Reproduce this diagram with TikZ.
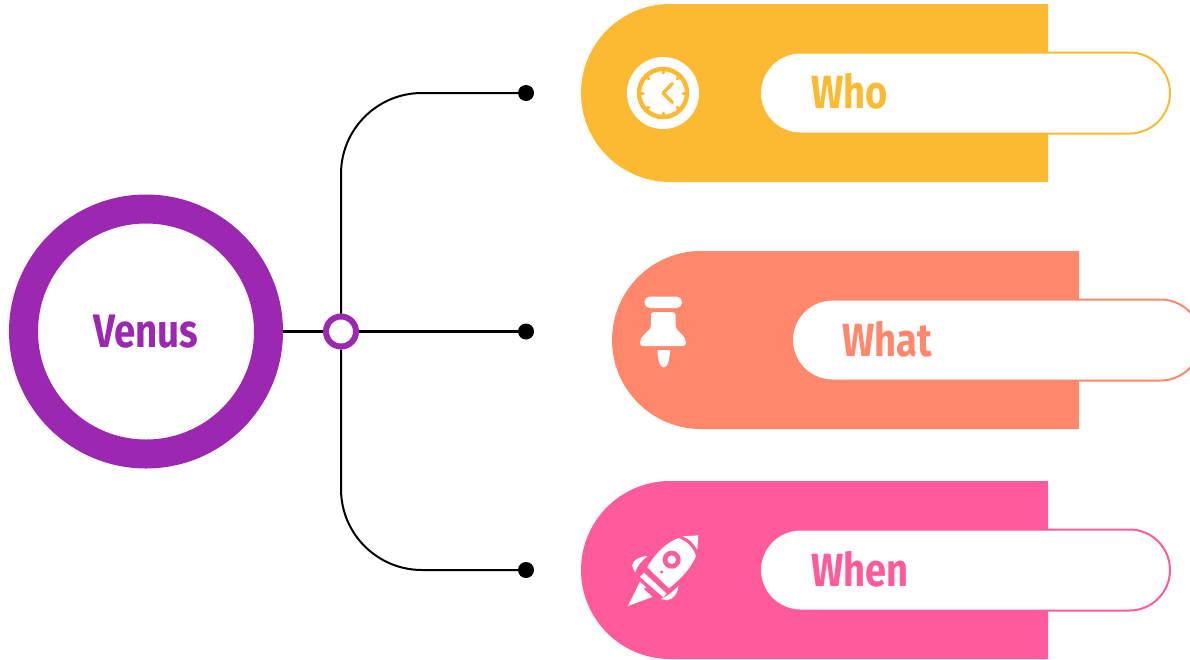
\documentclass[tikz,border=0pt]{standalone}
\usepackage{fontspec}
\setmainfont[FakeStretch=0.82]{Fira Sans}
\usepackage{xcolor}
\usetikzlibrary{calc}
\definecolor{whocolor}{HTML}{FCBA33}
\definecolor{whatcolor}{HTML}{FF876B}
\definecolor{whencolor}{HTML}{FF5A9B}
\definecolor{venuscolor}{HTML}{9C27B0}
\tikzset{
    planet/.style={circle, draw=venuscolor, line width=29pt, minimum size=245pt, inner sep=0pt, text=venuscolor, font=\bfseries\fontsize{47}{47}\selectfont},
    hubring/.style={circle, draw=venuscolor, fill=white, line width=6pt, minimum size=30pt, inner sep=0pt},
    enddot/.style={circle, fill=black, minimum size=16pt, inner sep=0pt},
    branch/.style={line width=2pt, rounded corners=81pt},
    pill/.style={fill=white, line width=2pt, rounded corners=40.5pt},
    tag/.style={anchor=west, inner sep=0pt, font=\bfseries\fontsize{46.5}{46.5}\selectfont}
}
\begin{document}
\begin{tikzpicture}[x=1pt, y=-1pt]
    \useasboundingbox (0,0) rectangle (1190,659);
    \node[planet] (venus) at (146,331.5) {Venus};
    \node[hubring] (hub) at (341,331.5) {};
    \node[enddot] (dotwho) at (526,93) {};
    \node[enddot] (dotwhat) at (526,331.5) {};
    \node[enddot] (dotwhen) at (526,570) {};
    \draw[line width=2.5pt] (venus) -- (hub);
    \draw[line width=2.5pt] (hub) -- (dotwhat);
    \draw[branch] (hub.north) |- (dotwho);
    \draw[branch] (hub.south) |- (dotwhen);

    \fill[whocolor] (1048,4) {[rounded corners=89pt] -- (581,4) -- (581,182)} -- (1048,182) -- cycle;
    \draw[pill, draw=whocolor] (760,52.5) rectangle (1170,133.5);
    \node[tag, text=whocolor] (who) at (811,91.5) {Who};

    \fill[whatcolor] (1079,251) {[rounded corners=89pt] -- (612,251) -- (612,429)} -- (1079,429) -- cycle;
    \begin{scope}
        \clip (612,251) rectangle (1190,429);
        \draw[pill, draw=whatcolor] (792,299.5) rectangle (1201,380.5);
    \end{scope}
    \node[tag, text=whatcolor] (what) at (842,339) {What};

    \fill[whencolor] (1048,481) {[rounded corners=89pt] -- (581,481) -- (581,659)} -- (1048,659) -- cycle;
    \draw[pill, draw=whencolor] (760,529.5) rectangle (1170,610.5);
    \node[tag, text=whencolor] (when) at (811,569) {When};

    \fill[white] (663,93) circle (36);
    \draw[whocolor, line width=4.5pt] (663,93) circle (24);
    \draw[whocolor, line width=3.5pt, line cap=round, line join=round] (672.5,83.5) -- (663,93) -- (672.5,102.5);
    \foreach \a in {0,45,...,315} {
        \draw[whocolor, line width=3pt, line cap=round] ($(663,93)+(\a:24)$) -- ($(663,93)+(\a:20)$);
    }

    \fill[white, rounded corners=5.5pt] (644.5,296.5) rectangle (682,308);
    \fill[white, rounded corners=3pt] (651,312) -- (675.5,312) -- (675.5,328) .. controls (680,333) and (686,337) .. (686,346) -- (640,346) .. controls (640,337) and (646,333) .. (651,328) -- cycle;
    \fill[white] (657.5,350) -- (670,350) .. controls (670,358) and (668,367.5) .. (663.7,367.5) .. controls (659.5,367.5) and (657.5,358) .. (657.5,350) -- cycle;

    \begin{scope}[shift={(610,525)}, x=0.3333pt, y=-0.3333pt]
        \fill[white] (218,34) -- (265,31) -- (262,76) .. controls (252,55) and (238,42) .. (218,34) -- cycle;
        \fill[white] (205,39) .. controls (235,50) and (250,70) .. (258,93) .. controls (240,135) and (208,165) .. (177,190) -- (112,127) .. controls (132,90) and (165,55) .. (205,39) -- cycle;
        \fill[white] (102,143) -- (170,206) -- (160,217) -- (90,156) -- cycle;
        \fill[white] (90,170) -- (108,187) -- (101,192) -- (118,207) -- (127,216) -- (54,243) -- cycle;
        \fill[white] (112,93) .. controls (88,95) and (70,104) .. (66,121) -- (75,142) .. controls (82,122) and (96,107) .. (112,93) -- cycle;
        \fill[white] (205,183) .. controls (205,205) and (190,222) .. (172,226) -- (153,222) .. controls (172,214) and (190,200) .. (205,183) -- cycle;
        \fill[whencolor] (185,104) circle (27);
        \fill[white] (185,104) circle (13);
        \fill[whencolor] (155,141) circle (5);
    \end{scope}
\end{tikzpicture}
\end{document}
